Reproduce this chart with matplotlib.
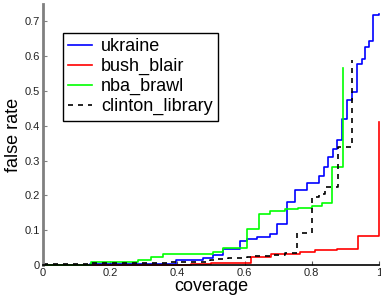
import matplotlib
matplotlib.use('Agg')
import matplotlib.pyplot as plt
from matplotlib.ticker import FormatStrFormatter

plt.rcParams['font.family'] = ['Liberation Sans', 'DejaVu Sans']

# --- données (courbes en escalier) ---
ukraine_x = [0, 0.14, 0.396, 0.476, 0.507, 0.535, 0.586, 0.606, 0.636, 0.676,
             0.697, 0.725, 0.75, 0.785, 0.82, 0.836, 0.849, 0.862, 0.874, 0.889,
             0.904, 0.919, 0.935, 0.948, 0.958, 0.971, 0.983, 1.0]
ukraine_y = [0, 0.003, 0.014, 0.021, 0.030, 0.047, 0.068, 0.075, 0.080, 0.089,
             0.118, 0.18, 0.215, 0.235, 0.257, 0.281, 0.31, 0.334, 0.358, 0.42,
             0.473, 0.497, 0.578, 0.592, 0.626, 0.645, 0.717, 0.722]

bush_x = [0, 0.14, 0.44, 0.5, 0.62, 0.68, 0.765, 0.81, 0.874, 0.937, 1.0]
bush_y = [0, 0.001, 0.003, 0.005, 0.024, 0.032, 0.037, 0.043, 0.047, 0.083, 0.41]

nba_x = [0, 0.142, 0.284, 0.32, 0.358, 0.507, 0.535, 0.607, 0.643, 0.677,
         0.72, 0.76, 0.80, 0.83, 0.859, 0.892]
nba_y = [0, 0.009, 0.014, 0.022, 0.033, 0.038, 0.048, 0.104, 0.147, 0.155,
         0.16, 0.165, 0.17, 0.177, 0.281, 0.565]

clinton_x = [0, 0.14, 0.37, 0.497, 0.517, 0.552, 0.608, 0.62, 0.68, 0.72,
             0.757, 0.8, 0.82, 0.839, 0.879, 0.919]
clinton_y = [0.003, 0.005, 0.008, 0.013, 0.016, 0.020, 0.022, 0.025, 0.029, 0.035,
             0.092, 0.195, 0.205, 0.224, 0.339, 0.588]

x_ticks = [0, 0.2, 0.4, 0.6, 0.8, 1]
y_ticks = [0, 0.1, 0.2, 0.3, 0.4, 0.5, 0.6, 0.7]

# --- figure ---
fig = plt.figure(figsize=(3.81, 3.02), dpi=100)
ax = fig.add_axes([43/381, 37/302, 336/381, 261/302])

lw = 1.2
ax.plot(ukraine_x, ukraine_y, color='#0000ff', lw=lw, drawstyle='steps-post', label='ukraine', clip_on=False)
ax.plot(bush_x, bush_y, color='#ff0000', lw=lw, drawstyle='steps-post', label='bush_blair', clip_on=False)
ax.plot(nba_x, nba_y, color='#00ff00', lw=lw, drawstyle='steps-post', label='nba_brawl', clip_on=False)
ax.plot(clinton_x, clinton_y, color='black', lw=lw, ls=(0, (3, 3)), drawstyle='steps-post',
        label='clinton_library', clip_on=False)

ax.set_xlim(0, 1)
ax.set_ylim(0, 0.75)
ax.set_xticks(x_ticks)
ax.set_yticks(y_ticks)
ax.xaxis.set_major_formatter(FormatStrFormatter('%g'))
ax.yaxis.set_major_formatter(FormatStrFormatter('%g'))
ax.tick_params(direction='in', length=3, labelsize=8, pad=2)

ax.spines['top'].set_visible(False)
ax.spines['right'].set_visible(False)
ax.spines['left'].set_color('#808080')
ax.spines['left'].set_linewidth(2)
ax.spines['bottom'].set_color('black')
ax.spines['bottom'].set_linewidth(1.2)
ax.tick_params(axis='y', colors='#808080', labelcolor='#222222')
ax.tick_params(axis='x', colors='#555555', labelcolor='#222222')

ax.set_xlabel('coverage', fontsize=13, labelpad=0)
ax.set_ylabel('false rate', fontsize=13, labelpad=2)

leg = ax.legend(loc='upper left', bbox_to_anchor=(63/381, 1 - 33/302),
                bbox_transform=fig.transFigure, borderaxespad=0,
                fontsize=13, handlelength=1.3, handletextpad=0.5,
                labelspacing=0.15, borderpad=0.3, fancybox=False, framealpha=1)
leg.get_frame().set_edgecolor('black')
leg.get_frame().set_linewidth(1.0)

fig.savefig('out.png', dpi=100)
